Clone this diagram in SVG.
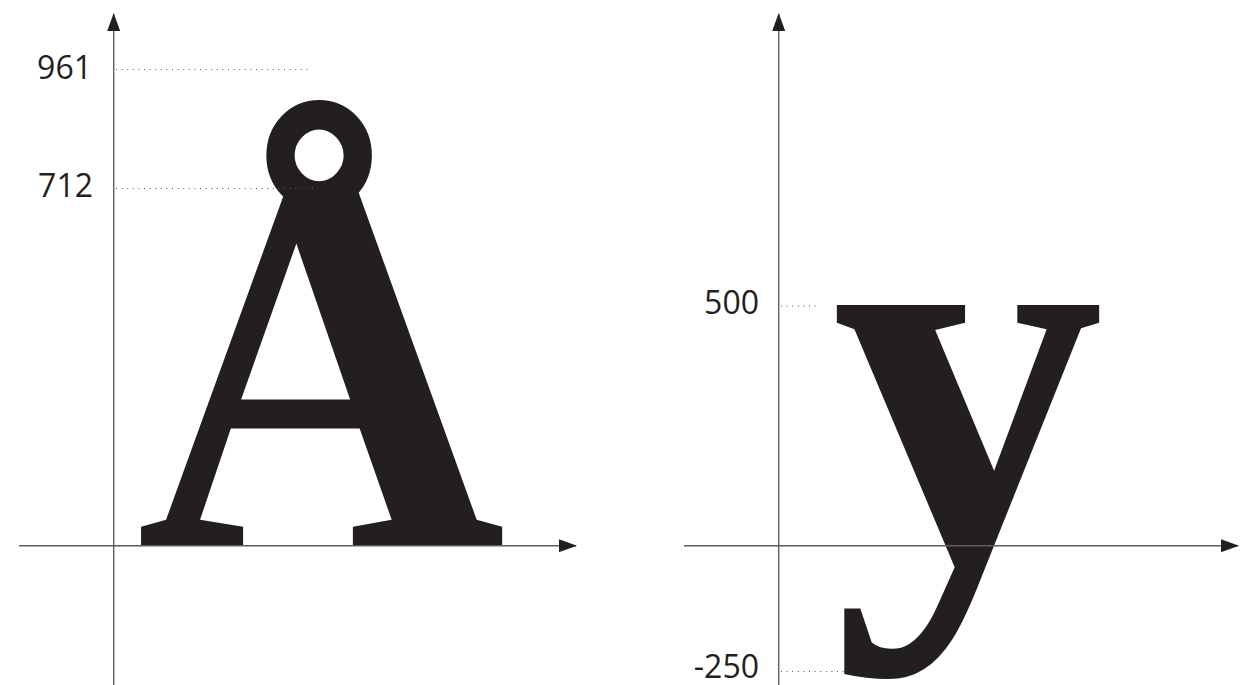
<svg xmlns="http://www.w3.org/2000/svg" width="1254" height="685" viewBox="0 0 1254 685">
  <defs>
    <marker id="arrow" viewBox="0 0 18 13" refX="17" refY="6.5" markerWidth="18" markerHeight="13" markerUnits="userSpaceOnUse" orient="auto">
      <path d="M0,0 L18,6.5 L0,13 Z" fill="#231f20"/>
    </marker>
    <style>
      .axis { stroke: #5e5e5e; stroke-width: 1.4; fill: none; }
      .arrowed { marker-end: url(#arrow); }
      .guide { stroke: #555; stroke-width: 1; stroke-dasharray: 1 4.6; fill: none; }
      .label { font-family: "Open Sans", "Liberation Sans", sans-serif; font-size: 32px; fill: #231f20; text-anchor: end; }
      .glyph { font-family: "Liberation Serif", "DejaVu Serif", serif; font-weight: bold; fill: #231f20; text-anchor: middle; }
    </style>
  </defs>
  <rect width="1254" height="685" fill="#ffffff"/>

  <g id="glyph-A">
    <text class="glyph" x="321" y="546" font-size="528" transform="translate(321,546) scale(0.97,1.02) translate(-321,-546)">Å</text>
  </g>
  <g id="glyph-y">
    <text class="glyph" x="968" y="546" font-size="525" transform="translate(968,306) scale(1.04,1.056) translate(-968,-306)">y</text>
  </g>

  <g id="connectors">
    <line class="axis arrowed" x1="113.7" y1="685" x2="113.7" y2="14"/>
    <line class="axis arrowed" x1="19" y1="545.7" x2="576" y2="545.7"/>
    <line class="axis arrowed" x1="778.7" y1="685" x2="778.7" y2="14"/>
    <line class="axis arrowed" x1="684" y1="545.7" x2="1238" y2="545.7"/>
    <line class="guide" x1="116" y1="69.5" x2="310" y2="69.5"/>
    <line class="guide" x1="116" y1="188.5" x2="318" y2="188.5"/>
    <line class="guide" x1="781" y1="306" x2="820" y2="306"/>
    <line class="guide" x1="781" y1="671.5" x2="848" y2="671.5"/>
  </g>

  <g id="labels">
    <text class="label" x="92" y="79">961</text>
    <text class="label" x="93" y="197">712</text>
    <text class="label" x="759" y="314">500</text>
    <text class="label" x="759" y="678">-250</text>
  </g>
</svg>
